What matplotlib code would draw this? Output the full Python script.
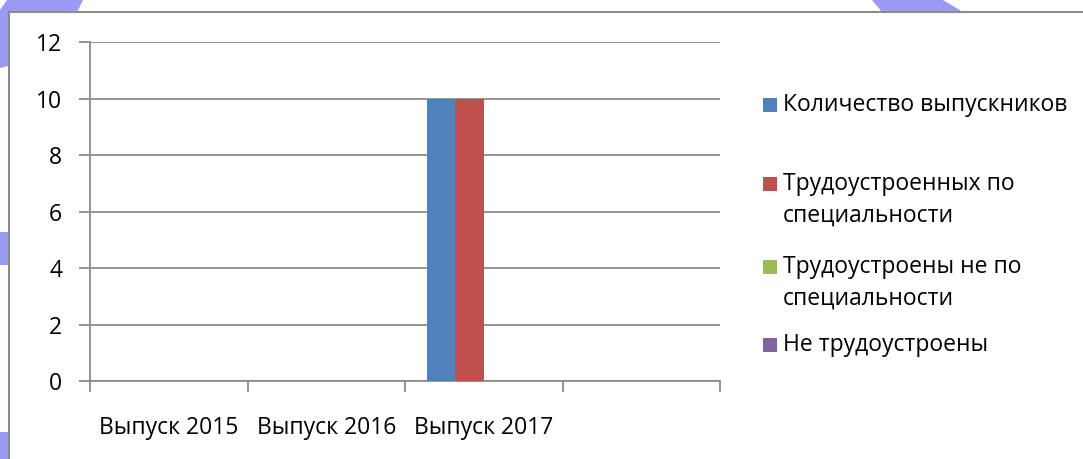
import matplotlib
matplotlib.use("Agg")
import matplotlib.pyplot as plt
from matplotlib.patches import Rectangle, Polygon
import numpy as np

categories = ["Выпуск 2015", "Выпуск 2016", "Выпуск 2017", ""]
series_names = ["Количество выпускников", "Трудоустроенных по\nспециальности",
                "Трудоустроены не по\nспециальности", "Не трудоустроены"]
series_values = [
    [0, 0, 10, 0],
    [0, 0, 10, 0],
    [0, 0, 0, 0],
    [0, 0, 0, 0],
]
colors = ["#4F81BD", "#C0504D", "#9BBB59", "#8064A2"]
yticks = [0, 2, 4, 6, 8, 10, 12]

plt.rcParams['font.family'] = ['Open Sans', 'DejaVu Sans']
FS = 16.5
W, H = 1083, 459
fig = plt.figure(figsize=(W / 100, H / 100), dpi=100)


def fig_poly(pts):
    return Polygon([(px / W, 1 - py / H) for px, py in pts], closed=True,
                   transform=fig.transFigure, facecolor="#9a9af5", edgecolor='none', zorder=0)


# decorative background shapes (light purple)
fig.patches.append(fig_poly([(7, 0), (83, 0), (77, 12), (30, 50), (8, 66), (0, 68), (0, 10)]))
fig.patches.append(fig_poly([(872, 0), (943, 0), (963, 12), (882, 12)]))
fig.patches.append(fig_poly([(0, 232), (8, 232), (8, 265), (0, 265)]))
fig.patches.append(fig_poly([(0, 432), (8, 432), (8, 459), (0, 459)]))
# chart area frame
fig.patches.append(Rectangle((8.5 / W, -0.1), 1.2, 1.1 - 12.5 / H, transform=fig.transFigure,
                             facecolor='white', edgecolor='#8c8c8c', linewidth=1.5, zorder=1))

ax = fig.add_axes([90 / W, 1 - 381 / H, (720 - 90) / W, (381 - 42) / H])
ax.set_zorder(2)
ax.patch.set_alpha(0)

n = len(series_values)
width = 0.181
x = np.arange(len(categories)) + 0.5
for i, (vals, col) in enumerate(zip(series_values, colors)):
    ax.bar(x + (i - (n - 1) / 2) * width, vals, width=width, color=col, zorder=3)

ax.set_xlim(0, len(categories))
ax.set_ylim(0, 12)
ax.set_yticks(yticks)
ax.set_yticklabels([str(t) for t in yticks], fontsize=FS)
ax.set_xticks(np.arange(len(categories) + 1))
ax.set_xticklabels([])
ax.set_xticks(x, minor=True)
ax.set_xticklabels(categories, minor=True, fontsize=FS)
ax.tick_params(axis='x', which='minor', length=0, pad=25)
ax.tick_params(axis='x', which='major', length=8, color='#8c8c8c', width=1.3)
ax.tick_params(axis='y', length=8, color='#8c8c8c', width=1.3, pad=12)
ax.grid(axis='y', color='#8c8c8c', linewidth=1.3, zorder=0)
for s in ['top', 'right']:
    ax.spines[s].set_visible(False)
for s in ['left', 'bottom']:
    ax.spines[s].set_color('#8c8c8c')
    ax.spines[s].set_linewidth(1.3)

# legend (manual, Excel-like spacing)
legend_y = [105, 200, 283, 345]
for name, col, yc in zip(series_names, colors, legend_y):
    lines = name.split("\n")
    first_y = yc - (len(lines) - 1) * 32 / 2
    fig.patches.append(Rectangle((763 / W, 1 - (first_y + 7) / H), 14 / W, 14 / H,
                                 transform=fig.transFigure, facecolor=col, edgecolor='none', zorder=3))
    fig.text(783 / W, 1 - yc / H, name, fontsize=FS, va='center', ha='left',
             linespacing=1.42, zorder=3)

fig.savefig("out.png", dpi=100)
